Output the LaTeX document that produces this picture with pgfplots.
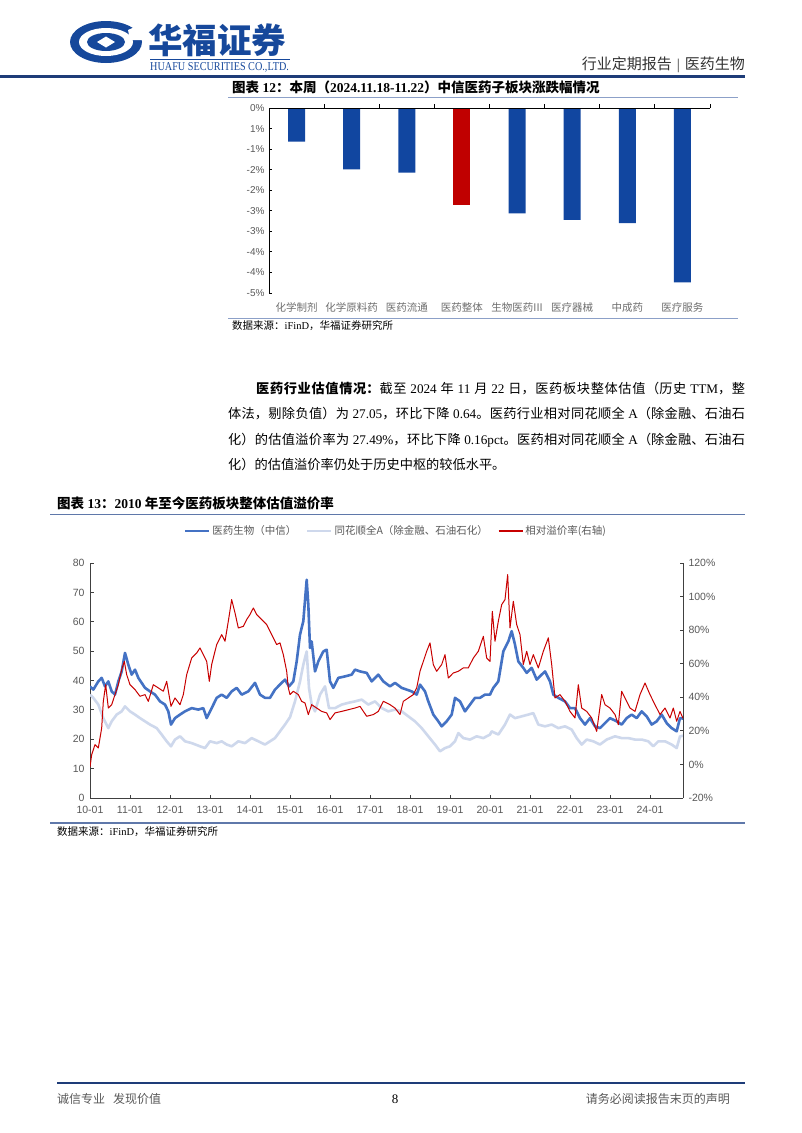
\documentclass[border=0pt]{standalone}
\usepackage{pgfplots}
\pgfplotsset{compat=1.18}
\usepackage{fontspec}
\setmainfont{Liberation Serif}
\setsansfont{Liberation Sans}
\newfontfamily\cjk{Noto Sans CJK SC}
\XeTeXlinebreaklocale "zh"
\XeTeXlinebreakskip=0pt plus 2pt minus 0.5pt
\newcommand\zh[1]{{\cjk #1}}
\definecolor{navy}{RGB}{30,60,120}
\definecolor{logoblue}{RGB}{22,72,155}
\definecolor{rulegray}{RGB}{140,160,200}
\definecolor{rule13}{RGB}{95,120,170}
\definecolor{barblue}{RGB}{17,70,160}
\definecolor{barred}{RGB}{192,0,0}
\definecolor{lblgray}{RGB}{89,89,89}
\definecolor{catgray}{RGB}{110,110,110}
\definecolor{sblue}{RGB}{68,114,196}
\definecolor{slight}{RGB}{206,216,236}
\definecolor{sred}{RGB}{200,0,0}
\definecolor{axgray}{RGB}{64,64,64}
\begin{document}
\begin{tikzpicture}
\useasboundingbox (0,0) rectangle (802pt,-1133pt);
\fill[white] (0,0) rectangle (802pt,-1133pt);
% ---------- header ----------
\fill[logoblue] (106pt,-42pt) ellipse [x radius=36pt, y radius=21pt];
\fill[white] (106pt,-42pt) ellipse [x radius=27pt, y radius=14pt];
\fill[white] (128pt,-30pt) -- (146pt,-22pt) -- (146pt,-40pt) -- (130pt,-40pt) -- cycle;
\fill[logoblue] (106pt,-42pt) ellipse [x radius=19pt, y radius=9pt];
\fill[white] (97pt,-42pt) -- (106pt,-36.5pt) -- (115pt,-42pt) -- (106pt,-47.5pt) -- cycle;
\node[anchor=west, inner sep=0pt, text=logoblue, font=\fontsize{34.5}{34}\selectfont\bfseries] at (148pt,-40pt) {\zh{华福证券}};
\draw[logoblue, line width=0.6pt] (150pt,-59pt) -- (290pt,-59pt);
\node[anchor=west, inner sep=0pt, text=logoblue] at (150pt,-67pt) {\scalebox{0.85}[1]{\fontsize{12}{12}\selectfont HUAFU SECURITIES CO.,LTD.}};
\node[anchor=east, inner sep=0pt, text=black!80, font=\fontsize{15}{15}\selectfont] at (745pt,-65pt) {\zh{行业定期报告}\hspace{5pt}|\hspace{5pt}\zh{医药生物}};
\draw[navy, line width=2.2pt] (0pt,-76.5pt) -- (745pt,-76.5pt);
% ---------- chart 12 ----------
\node[anchor=west, inner sep=0pt, font=\fontsize{13.5}{14}\selectfont\bfseries] at (232pt,-87pt) {\zh{图表} 12\zh{：本周（}2024.11.18-11.22\zh{）中信医药子板块涨跌幅情况}};
\draw[rulegray, line width=1pt] (228pt,-97.5pt) -- (738pt,-97.5pt);
\draw[rulegray, line width=1pt] (228pt,-318pt) -- (738pt,-318pt);
\node[anchor=west, inner sep=0pt, font=\fontsize{10.5}{11}\selectfont] at (232pt,-326pt) {\zh{数据来源：}iFinD\zh{，华福证券研究所}};
\begin{axis}[at={(269pt,-293pt)}, anchor=south west, scale only axis,
  width=441pt, height=185pt, xmin=0, xmax=8, ymin=-4.5, ymax=0,
  axis x line*=bottom, axis y line*=left,
  x axis line style={draw=none}, y axis line style={black, line width=0.8pt},
  xtick={0.5,1.5,...,7.5},
  xticklabels={化学制剂,化学原料药,医药流通,医药整体,生物医药III,医疗器械,中成药,医疗服务},
  xticklabel style={text=catgray, font=\fontsize{10.5}{11}\selectfont\cjk, yshift=-6pt},
  xtick style={draw=none},
  ytick={0,-0.5,...,-4.5},
  yticklabels={0\%,1\%,-1\%,-2\%,-2\%,-3\%,-3\%,-4\%,-4\%,-5\%},
  yticklabel style={text=lblgray, font=\fontsize{10}{11}\selectfont\sffamily, xshift=-1pt},
  ytick style={black, line width=0.8pt}, tick align=inside, major tick length=3pt,
  clip=false]
\addplot[ybar, bar width=17pt, bar shift=0pt, fill=barblue, draw=none] coordinates {(0.5,-0.82) (1.5,-1.49) (2.5,-1.57) (4.5,-2.56) (5.5,-2.72) (6.5,-2.80) (7.5,-4.24)};
\addplot[ybar, bar width=17pt, bar shift=0pt, fill=barred, draw=none] coordinates {(3.5,-2.35)};
\end{axis}
\begin{axis}[at={(269pt,-293pt)}, anchor=south west, scale only axis,
  width=441pt, height=185pt, xmin=0, xmax=8, ymin=-4.5, ymax=0,
  axis x line*=top, axis y line=none,
  x axis line style={black, line width=0.8pt},
  xtick={1,...,8}, xticklabels={}, xtick style={black, line width=0.8pt},
  tick align=outside, major tick length=4pt]
\addplot[draw=none] coordinates {(0,0)};
\end{axis}
% ---------- paragraph ----------
\node[anchor=north west, inner sep=0pt, text width=517pt, align=justify, font=\fontsize{13.2}{25.3}\selectfont] at (228pt,-382pt) {\hspace*{28pt}{\bfseries\zh{医药行业估值情况：}}\zh{截至} 2024 \zh{年} 11 \zh{月} 22 \zh{日，医药板块整体估值（历史} TTM\zh{，整}\linebreak
\zh{体法，剔除负值）为} 27.05\zh{，环比下降} 0.64\zh{。医药行业相对同花顺全} A\zh{（除金融、石油石}\linebreak
\zh{化）的估值溢价率为} 27.49\%\zh{，环比下降} 0.16pct\zh{。医药相对同花顺全} A\zh{（除金融、石油石}\linebreak
\zh{化）的估值溢价率仍处于历史中枢的较低水平。}};
% ---------- chart 13 ----------
\node[anchor=west, inner sep=0pt, font=\fontsize{13.5}{14}\selectfont\bfseries] at (57pt,-503pt) {\zh{图表} 13\zh{：}2010 \zh{年至今医药板块整体估值溢价率}};
\draw[rule13, line width=1.8pt] (50pt,-514.5pt) -- (745pt,-514.5pt);
\draw[rule13, line width=1.8pt] (50pt,-823pt) -- (745pt,-823pt);
\node[anchor=west, inner sep=0pt, font=\fontsize{10.5}{11}\selectfont] at (57pt,-832pt) {\zh{数据来源：}iFinD\zh{，华福证券研究所}};
\begin{axis}[at={(90pt,-798pt)}, anchor=south west, scale only axis,
  width=593pt, height=235pt, xmin=0, xmax=14.825, ymin=0, ymax=80,
  axis x line*=bottom, axis y line*=left,
  axis line style={axgray, line width=0.9pt},
  xtick={0,...,14},
  xticklabels={10-01,11-01,12-01,13-01,14-01,15-01,16-01,17-01,18-01,19-01,20-01,21-01,22-01,23-01,24-01},
  xticklabel style={yshift=-5pt},
  ytick={0,10,...,80}, yticklabels={0,10,20,30,40,50,60,70,80},
  yticklabel style={xshift=-2pt},
  tick label style={text=lblgray, font=\fontsize{10.5}{11}\selectfont\sffamily},
  tick style={axgray, line width=0.9pt}, tick align=inside, major tick length=3.5pt,
  legend style={at={(0.516,1.136)}, anchor=center, draw=none, fill=none,
    legend columns=3, font=\fontsize{10.5}{11}\selectfont\cjk, text=lblgray,
    /tikz/every even column/.append style={column sep=8pt}},
  legend image code/.code={\draw[#1] (0pt,0pt) -- (24pt,0pt);},
  line join=round]
\addlegendimage{sblue, line width=2.2pt}
\addlegendimage{slight, line width=2.2pt}
\addlegendimage{draw=sred, line width=1.4pt}
\legend{医药生物（中信）,同花顺全A（除金融、石油石化）,相对溢价率(右轴)}
\addplot[slight, line width=2.6pt, forget plot] coordinates {
(0.000,35.2) (0.083,34.1) (0.208,31.8) (0.333,27.2) (0.458,23.8) (0.542,26.1) (0.667,28.4) (0.792,29.5) (0.875,31.2) (1.000,29.5) (1.125,28.4) (1.250,27.2) (1.375,26.1) (1.500,25.0) (1.667,23.8) (1.792,21.6) (1.917,19.3) (2.025,17.6) (2.125,19.9) (2.250,21.0) (2.375,19.3) (2.542,18.7) (2.750,17.6) (2.875,17.0) (3.000,19.3) (3.167,18.7) (3.292,19.3) (3.417,18.2) (3.542,17.6) (3.708,19.3) (3.875,18.7) (4.042,20.4) (4.208,19.3) (4.375,18.2) (4.500,19.3) (4.625,20.4) (4.750,22.7) (4.875,25.0) (5.000,27.5) (5.125,32.9) (5.250,39.7) (5.333,45.4) (5.417,49.9) (5.475,37.5) (5.542,31.8) (5.625,29.5) (5.750,35.2) (5.875,38.0) (5.975,30.6) (6.125,30.6) (6.292,31.8) (6.458,32.4) (6.625,32.9) (6.792,33.5) (6.958,31.8) (7.125,32.9) (7.292,30.6) (7.458,29.5) (7.625,30.1) (7.792,29.5) (7.958,27.8) (8.125,26.1) (8.292,23.8) (8.458,21.0) (8.625,18.2) (8.750,15.9) (8.875,17.0) (9.000,17.6) (9.125,19.3) (9.208,22.1) (9.333,20.4) (9.500,19.9) (9.667,21.0) (9.833,20.4) (10.000,21.6) (10.042,22.7) (10.208,21.6) (10.375,25.0) (10.500,28.4) (10.625,27.2) (10.792,27.8) (10.958,28.4) (11.083,28.9) (11.208,25.0) (11.375,24.4) (11.542,25.0) (11.708,23.8) (11.875,24.4) (12.042,23.3) (12.167,20.4) (12.292,18.2) (12.417,19.9) (12.583,19.3) (12.750,18.2) (12.917,19.9) (13.125,21.0) (13.292,20.4) (13.458,20.4) (13.625,19.9) (13.792,19.9) (13.958,19.3) (14.083,17.6) (14.208,19.3) (14.375,19.3) (14.542,18.2) (14.667,17.0) (14.750,21.0) (14.825,21.2)};
\addplot[sblue, line width=2.6pt, forget plot] coordinates {
(0.000,38.0) (0.083,36.9) (0.208,39.7) (0.292,40.9) (0.375,38.0) (0.458,39.7) (0.542,36.3) (0.625,35.2) (0.708,39.7) (0.792,43.1) (0.875,49.4) (0.958,45.4) (1.042,42.0) (1.125,43.7) (1.208,40.9) (1.292,39.2) (1.375,37.5) (1.500,36.3) (1.625,35.2) (1.750,32.9) (1.875,31.8) (1.958,29.5) (2.025,25.0) (2.125,27.2) (2.250,28.4) (2.375,29.5) (2.542,30.6) (2.708,30.1) (2.833,30.6) (2.917,27.2) (3.042,30.6) (3.167,34.1) (3.292,35.2) (3.417,34.1) (3.542,36.3) (3.667,37.5) (3.792,35.2) (3.958,36.3) (4.125,39.2) (4.250,35.2) (4.375,34.1) (4.500,34.1) (4.625,36.9) (4.792,39.2) (4.875,40.3) (4.975,38.0) (5.083,39.7) (5.167,46.5) (5.250,55.6) (5.333,60.2) (5.417,74.3) (5.458,65.8) (5.500,51.1) (5.542,53.3) (5.625,43.1) (5.708,46.5) (5.833,49.9) (5.917,50.5) (6.000,39.7) (6.083,37.5) (6.208,40.9) (6.375,41.4) (6.542,42.0) (6.625,43.7) (6.750,43.1) (6.917,42.6) (7.042,39.7) (7.208,42.0) (7.333,39.7) (7.500,38.0) (7.625,39.2) (7.792,37.5) (7.917,36.9) (8.042,36.3) (8.167,35.2) (8.250,38.6) (8.375,36.3) (8.458,32.9) (8.583,28.4) (8.708,26.1) (8.792,24.4) (8.917,26.1) (9.042,28.4) (9.125,34.1) (9.250,32.9) (9.375,29.5) (9.500,31.8) (9.625,34.1) (9.750,34.1) (9.875,35.2) (10.000,35.2) (10.083,37.5) (10.208,39.7) (10.333,49.9) (10.458,53.3) (10.542,56.8) (10.625,52.2) (10.708,46.5) (10.833,44.3) (10.917,42.6) (11.042,44.3) (11.167,40.3) (11.292,42.0) (11.375,43.1) (11.500,39.7) (11.583,35.2) (11.708,34.1) (11.875,32.9) (12.000,30.6) (12.125,30.6) (12.250,27.2) (12.375,25.0) (12.500,27.2) (12.625,24.4) (12.750,23.8) (12.875,25.5) (13.000,27.2) (13.167,26.1) (13.292,25.0) (13.417,27.2) (13.542,28.4) (13.667,27.2) (13.792,29.5) (13.917,27.8) (14.042,25.0) (14.167,26.1) (14.292,28.4) (14.417,25.5) (14.542,23.8) (14.667,22.7) (14.750,27.2) (14.825,27.05)};
\end{axis}
\begin{axis}[at={(90pt,-798pt)}, anchor=south west, scale only axis,
  width=593pt, height=235pt, xmin=0, xmax=14.825, ymin=-20, ymax=120,
  axis x line=none, axis y line*=right,
  axis line style={axgray, line width=0.9pt},
  ytick={-20,0,...,120}, yticklabels={-20\%,0\%,20\%,40\%,60\%,80\%,100\%,120\%},
  yticklabel style={xshift=2pt},
  tick label style={text=lblgray, font=\fontsize{10.5}{11}\selectfont\sffamily},
  tick style={axgray, line width=0.9pt}, tick align=inside, major tick length=3.5pt,
  line join=round]
\addplot[sred, line width=1pt] coordinates {
(0.000,-1.5) (0.042,5.8) (0.125,11.8) (0.208,9.8) (0.292,21.7) (0.333,37.6) (0.392,47.5) (0.458,33.6) (0.542,35.6) (0.625,41.6) (0.708,47.5) (0.792,56.5) (0.858,61.4) (0.917,53.5) (1.000,47.5) (1.125,44.6) (1.250,40.6) (1.375,41.6) (1.458,37.6) (1.583,47.5) (1.708,45.6) (1.833,43.6) (1.917,49.5) (2.025,34.6) (2.125,39.6) (2.250,35.6) (2.333,41.6) (2.417,53.5) (2.542,63.4) (2.667,66.4) (2.750,69.4) (2.833,65.4) (2.917,61.4) (2.983,49.5) (3.042,59.5) (3.167,71.4) (3.292,77.3) (3.375,73.4) (3.458,85.3) (3.542,98.2) (3.625,90.3) (3.708,81.3) (3.833,82.3) (3.917,86.3) (4.000,89.3) (4.083,93.2) (4.167,89.3) (4.292,86.3) (4.417,83.3) (4.542,77.3) (4.667,71.4) (4.750,72.4) (4.833,65.4) (4.917,55.5) (4.958,45.6) (5.000,41.6) (5.083,43.6) (5.208,41.6) (5.292,37.6) (5.375,36.6) (5.458,29.7) (5.542,35.6) (5.667,33.6) (5.792,31.6) (5.917,30.7) (6.000,26.7) (6.125,30.7) (6.292,31.6) (6.458,32.6) (6.625,33.6) (6.750,34.6) (6.917,28.7) (7.083,29.7) (7.208,31.6) (7.333,37.6) (7.500,35.6) (7.625,33.6) (7.750,29.7) (7.833,37.6) (7.958,39.6) (8.083,41.6) (8.167,45.6) (8.250,55.5) (8.333,61.4) (8.417,67.4) (8.500,72.4) (8.583,59.5) (8.667,55.5) (8.792,59.5) (8.875,65.4) (8.958,51.5) (9.083,54.5) (9.208,55.5) (9.333,57.5) (9.458,57.5) (9.583,63.4) (9.708,67.4) (9.833,76.3) (9.917,63.4) (10.000,61.4) (10.058,91.2) (10.125,73.4) (10.208,85.3) (10.292,95.2) (10.375,98.2) (10.442,113.1) (10.500,81.3) (10.583,97.2) (10.667,83.3) (10.750,77.3) (10.833,59.5) (10.917,67.4) (11.000,59.5) (11.083,65.4) (11.208,57.5) (11.333,67.4) (11.458,75.4) (11.542,59.5) (11.625,39.6) (11.750,41.6) (11.875,37.6) (12.000,31.6) (12.125,27.7) (12.208,47.5) (12.292,33.6) (12.417,31.6) (12.542,27.7) (12.667,19.7) (12.792,41.6) (12.875,35.6) (13.000,33.6) (13.125,29.7) (13.208,23.7) (13.292,43.6) (13.375,39.6) (13.500,33.6) (13.625,31.6) (13.750,41.6) (13.875,48.5) (14.000,41.6) (14.125,35.6) (14.250,29.7) (14.375,33.6) (14.500,27.7) (14.583,33.6) (14.667,25.7) (14.750,31.6) (14.825,27.49)};
\end{axis}
% ---------- footer ----------
\draw[navy, line width=1.2pt] (57pt,-1083pt) -- (745pt,-1083pt);
\node[anchor=west, inner sep=0pt, text=lblgray, font=\fontsize{12}{12}\selectfont] at (57pt,-1099pt) {\zh{诚信专业\hspace{8pt}发现价值}};
\node[inner sep=0pt, font=\fontsize{13}{13}\selectfont] at (395pt,-1099pt) {8};
\node[anchor=east, inner sep=0pt, text=lblgray, font=\fontsize{12}{12}\selectfont] at (730pt,-1099pt) {\zh{请务必阅读报告末页的声明}};
\end{tikzpicture}
\end{document}
